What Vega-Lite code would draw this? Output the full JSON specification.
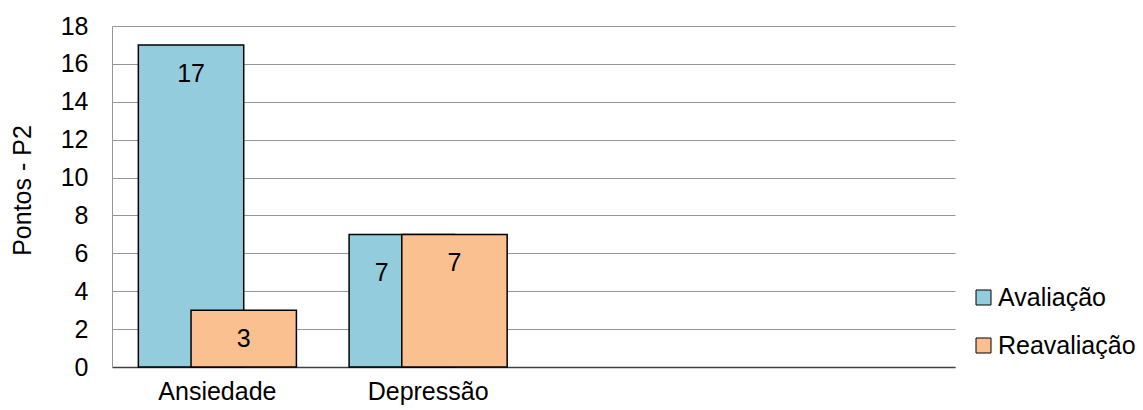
{
  "$schema": "https://vega.github.io/schema/vega-lite/v6.json",
  "width": 843,
  "height": 341,
  "autosize": {"type": "none"},
  "padding": {"left": 112, "top": 26, "right": 188, "bottom": 43},
  "background": "white",
  "config": {
    "font": "Liberation Sans",
    "view": {"stroke": null},
    "axis": {"labelFont": "Liberation Sans", "titleFont": "Liberation Sans"}
  },
  "data": {
    "values": [
      {"categoria": "Ansiedade", "serie": "Avaliação", "pontos": 17},
      {"categoria": "Depressão", "serie": "Avaliação", "pontos": 7},
      {"categoria": "Ansiedade", "serie": "Reavaliação", "pontos": 3},
      {"categoria": "Depressão", "serie": "Reavaliação", "pontos": 7}
    ]
  },
  "encoding": {
    "x": {
      "field": "categoria",
      "type": "nominal",
      "scale": {"domain": ["Ansiedade", "Depressão", "_3", "_4"], "paddingInner": 0, "paddingOuter": 0},
      "axis": {
        "title": null,
        "labelAngle": 0,
        "labelFontSize": 25,
        "labelColor": "#000000",
        "labelPadding": 12,
        "ticks": false,
        "domainColor": "#404040",
        "domainWidth": 1.5,
        "grid": false,
        "labelExpr": "indexof(datum.value, '_') == 0 ? '' : datum.value"
      }
    },
    "y": {
      "field": "pontos",
      "type": "quantitative",
      "scale": {"domain": [0, 18], "nice": false},
      "axis": {
        "title": "Pontos - P2",
        "values": [0, 2, 4, 6, 8, 10, 12, 14, 16, 18],
        "labelFontSize": 25,
        "labelColor": "#000000",
        "labelPadding": 24,
        "ticks": false,
        "domainColor": "#969696",
        "gridColor": "#969696",
        "gridWidth": 1,
        "titleFontSize": 25,
        "titleFontWeight": "normal",
        "titleColor": "#000000",
        "titleAngle": -90,
        "titleAlign": "center",
        "titleBaseline": "middle",
        "titleX": -90,
        "titleY": 164
      }
    }
  },
  "layer": [
    {
      "transform": [{"filter": "datum.serie == 'Avaliação'"}],
      "mark": {"type": "bar", "width": {"band": 0.5}, "xOffset": {"expr": "-bandwidth('x')*0.125"}, "stroke": "#000000", "strokeWidth": 1.5},
      "encoding": {
        "color": {
          "field": "serie",
          "type": "nominal",
          "scale": {"domain": ["Avaliação", "Reavaliação"], "range": ["#93CDDD", "#FAC090"]},
          "legend": {
            "title": null,
            "orient": "none",
            "legendX": 859,
            "legendY": 259,
            "symbolType": "square",
            "symbolSize": 225,
            "symbolStrokeColor": "#000000",
            "symbolStrokeWidth": 1,
            "symbolOpacity": 1,
            "labelFontSize": 25,
            "labelColor": "#000000",
            "labelOffset": 2,
            "rowPadding": 22
          }
        }
      }
    },
    {
      "transform": [{"filter": "datum.serie == 'Reavaliação'"}],
      "mark": {"type": "bar", "width": {"band": 0.5}, "xOffset": {"expr": "bandwidth('x')*0.125"}, "stroke": "#000000", "strokeWidth": 1.5},
      "encoding": {
        "color": {"field": "serie", "type": "nominal"}
      }
    },
    {
      "transform": [{"filter": "datum.serie == 'Avaliação' && datum.categoria == 'Ansiedade'"}],
      "mark": {"type": "text", "fontSize": 25, "color": "#000000", "baseline": "middle", "dy": 29, "xOffset": {"expr": "-bandwidth('x')*0.125"}},
      "encoding": {"text": {"field": "pontos", "type": "quantitative"}}
    },
    {
      "transform": [{"filter": "datum.serie == 'Avaliação' && datum.categoria == 'Depressão'"}],
      "mark": {"type": "text", "fontSize": 25, "color": "#000000", "baseline": "middle", "dy": 39, "dx": -20, "xOffset": {"expr": "-bandwidth('x')*0.125"}},
      "encoding": {"text": {"field": "pontos", "type": "quantitative"}}
    },
    {
      "transform": [{"filter": "datum.serie == 'Reavaliação'"}],
      "mark": {"type": "text", "fontSize": 25, "color": "#000000", "baseline": "middle", "dy": 29, "xOffset": {"expr": "bandwidth('x')*0.125"}},
      "encoding": {"text": {"field": "pontos", "type": "quantitative"}}
    }
  ]
}
